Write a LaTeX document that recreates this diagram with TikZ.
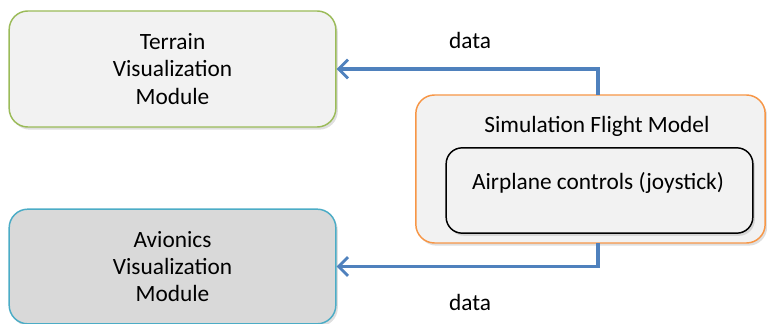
\documentclass[tikz,border=0pt]{standalone}
\usepackage{fontspec}
\setmainfont{Carlito}
\usetikzlibrary{arrows.meta,shadows}
\definecolor{boxfill}{HTML}{F2F2F2}
\definecolor{avfill}{HTML}{D9D9D9}
\definecolor{greenb}{HTML}{9BBB59}
\definecolor{blueb}{HTML}{4BACC6}
\definecolor{orangeb}{HTML}{F79646}
\definecolor{arrowc}{HTML}{4F81BD}
\tikzset{
  module/.style={draw, line width=1.1pt, rounded corners=14pt, align=center,
    font=\fontsize{17.5}{20.5}\selectfont, inner sep=0pt,
    drop shadow={shadow xshift=1.5pt, shadow yshift=-2pt, opacity=0.25}},
  dataarrow/.style={draw=arrowc, line width=2.6pt,
    -{Straight Barb[length=7pt,width=14pt,line width=2.2pt]}},
  lbl/.style={font=\fontsize{17.5}{20}\selectfont, inner sep=0pt}
}
\begin{document}
\begin{tikzpicture}[x=0.75pt,y=-0.75pt]
\useasboundingbox (0,0) rectangle (767,324);
\node[module, draw=greenb, fill=boxfill, minimum width=245pt, minimum height=87pt]
  (terrain) at (172.5,69) {Terrain\\Visualization\\Module};
\node[module, draw=blueb, fill=avfill, minimum width=245pt, minimum height=86pt]
  (avionics) at (172.5,266.5) {Avionics\\Visualization\\Module};
\node[module, draw=orangeb, fill=boxfill, minimum width=262pt, minimum height=111pt]
  (sfm) at (590.5,169) {};
\node[lbl] (sfmtitle) at (597,126) {Simulation Flight Model};
\node[module, draw=black, fill=boxfill, rounded corners=12pt, minimum width=230pt, minimum height=64pt]
  (ctrl) at (599.5,190.5) {};
\node[lbl] (ctrltext) at (598,183) {Airplane controls (joystick)};
\coordinate (t1) at (598,95);
\coordinate (b1) at (598,243);
\draw[dataarrow] (t1) |- (terrain.east);
\draw[dataarrow] (b1) |- (avionics.east);
\node[lbl] (data1) at (470,40) {data};
\node[lbl] (data2) at (470,302) {data};
\end{tikzpicture}
\end{document}
